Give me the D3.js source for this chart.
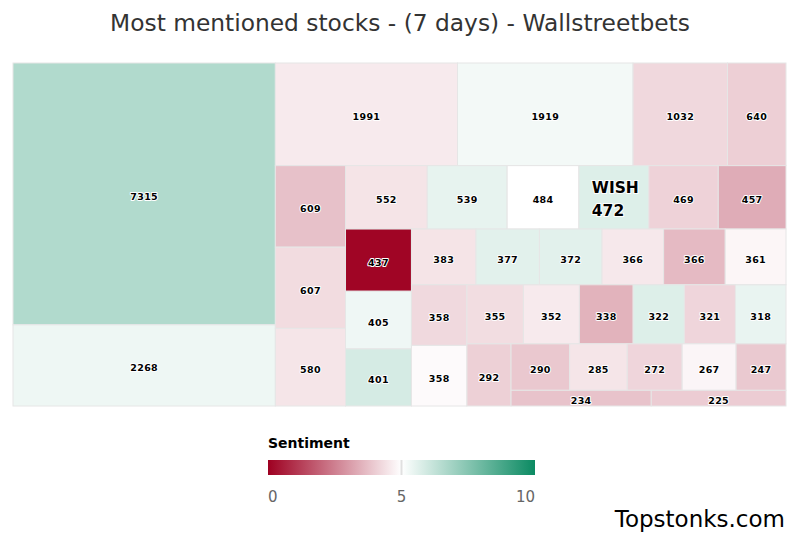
<!DOCTYPE html>
<html>
<head>
<meta charset="utf-8">
<script src="https://cdn.jsdelivr.net/npm/d3@7"></script>
<style>
  html, body { margin: 0; padding: 0; background: #fff; }
  svg { display: block; }
</style>
</head>
<body>
<svg id="chart" width="800" height="533"></svg>
<script>
// ---- data ----
const mentions = [7315, 2268, 1991, 1919, 1032, 640, 609, 607, 580, 552, 539, 484, 472, 469, 457,
  437, 405, 401, 383, 377, 372, 366, 366, 361, 358, 358, 355, 352, 338, 322, 321, 318,
  292, 290, 285, 272, 267, 247, 234, 225];
const sentiment = [6.6, 5.35, 4.59, 5.25, 4.24, 4.06, 3.78, 4.31, 4.49, 4.47, 5.5, 5.0, 5.7, 4.12, 3.37,
  0.1, 5.33, 5.86, 4.47, 5.6, 5.6, 4.55, 3.65, 4.83, 4.25, 4.9, 4.33, 4.59, 3.5, 5.7, 4.18, 5.45,
  4.08, 3.92, 4.49, 4.18, 4.81, 3.94, 3.82, 4.0];
const highlightIndex = 12;
const highlightName = "WISH";
const legendTicks = [0, 5, 10];
const titleText = "Most mentioned stocks - (7 days) - Wallstreetbets";
const legendTitle = "Sentiment";
const watermark = "Topstonks.com";

// ---- setup ----
const svg = d3.select("#chart");
const area = {x: 13, y: 63, w: 773, h: 343};

const color = d3.scaleLinear()
  .domain([0, 5, 10])
  .range(["#9e0021", "#ffffff", "#0b8a62"])
  .interpolate(d3.interpolateRgb)
  .clamp(true);

// Highcharts-style squarified tiling (alternating direction, last-point aspect test)
function hcSquarified(parent, x0, y0, x1, y1) {
  const kids = parent.children;
  const W = x1 - x0, H = y1 - y0, total = parent.value;
  const plot = {x: x0, y: y0};
  const ar = (w, h) => Math.max(w / h, h / w);
  const g = {height: H, width: W, direction: 0, total: 0, nW: 0, lW: 0, nH: 0, lH: 0, elArr: [],
    lP: {total: 0, lH: 0, nH: 0, lW: 0, nW: 0, nR: 0, lR: 0}};
  function add(el) {
    g.lP.total = g.elArr[g.elArr.length - 1];
    g.total += el;
    if (g.direction === 0) {
      g.lW = g.nW;
      g.lP.lH = g.lP.total / g.lW;
      g.lP.lR = ar(g.lW, g.lP.lH);
      g.nW = g.total / g.height;
      g.lP.nH = g.lP.total / g.nW;
      g.lP.nR = ar(g.nW, g.lP.nH);
    } else {
      g.lH = g.nH;
      g.lP.lW = g.lP.total / g.lH;
      g.lP.lR = ar(g.lP.lW, g.lH);
      g.nH = g.total / g.width;
      g.lP.nW = g.lP.total / g.nH;
      g.lP.nR = ar(g.lP.nW, g.nH);
    }
    g.elArr.push(el);
  }
  const rects = [];
  function calc(last) {
    let gW = g.lW, gH = g.lH, keep;
    if (last) { gW = g.nW; gH = g.nH; } else { keep = g.elArr[g.elArr.length - 1]; }
    const end = g.elArr.length - 1;
    g.elArr.forEach((p, i) => {
      if (last || i < end) {
        let pw, ph;
        if (g.direction === 0) { pw = gW; ph = p / pw; } else { ph = gH; pw = p / ph; }
        rects.push({x: plot.x, y: plot.y, w: pw, h: ph});
        if (g.direction === 0) plot.y += ph; else plot.x += pw;
      }
    });
    g.nW = 0; g.lW = 0; g.elArr = []; g.total = 0;
    if (g.direction === 0) g.width -= gW; else g.height -= gH;
    plot.y = y0 + (H - g.height);
    plot.x = x0 + (W - g.width);
    g.direction = 1 - g.direction;
    if (!last) add(keep);
  }
  kids.forEach((c, i) => {
    add(W * H * c.value / total);
    if (g.lP.nR > g.lP.lR) calc(false);
    if (i === kids.length - 1) calc(true);
  });
  kids.forEach((c, i) => {
    const r = rects[i];
    c.x0 = r.x; c.y0 = r.y; c.x1 = r.x + r.w; c.y1 = r.y + r.h;
  });
}

const rootData = {children: mentions.map((v, i) => ({value: v, sentiment: sentiment[i], index: i}))};
const root = d3.hierarchy(rootData).sum(d => d.value || 0);
d3.treemap().size([area.w, area.h]).tile(hcSquarified)(root);

const gMap = svg.append("g").attr("transform", `translate(${area.x},${area.y})`);
const leaves = root.leaves();

gMap.selectAll("rect.cell").data(leaves).join("rect")
  .attr("class", "cell")
  .attr("x", d => d.x0)
  .attr("y", d => d.y0)
  .attr("width", d => d.x1 - d.x0)
  .attr("height", d => d.y1 - d.y0)
  .attr("fill", d => color(d.data.sentiment))
  .attr("stroke", "#e6e6e6")
  .attr("stroke-width", 1);

const labelStyle = sel => sel
  .attr("font-family", "DejaVu Sans, sans-serif")
  .attr("font-weight", "bold")
  .attr("fill", "#000")
  .attr("stroke", "#fff")
  .attr("stroke-width", 2)
  .attr("stroke-linejoin", "round")
  .attr("paint-order", "stroke");

gMap.selectAll("text.lbl").data(leaves.filter(d => d.data.index !== highlightIndex)).join("text")
  .attr("class", "lbl")
  .attr("x", d => (d.x0 + d.x1) / 2)
  .attr("y", d => (d.y0 + d.y1) / 2 + 6)
  .attr("text-anchor", "middle")
  .attr("font-size", 9.5)
  .attr("letter-spacing", 0.3)
  .call(labelStyle)
  .text(d => d.data.value);

const hl = leaves.find(d => d.data.index === highlightIndex);
const hlText = gMap.append("text")
  .attr("font-family", "DejaVu Sans, sans-serif")
  .attr("font-weight", "bold")
  .attr("font-size", 15.5)
  .attr("fill", "#000")
  .attr("stroke", "#fff")
  .attr("stroke-width", 2)
  .attr("paint-order", "stroke");
hlText.append("tspan").text(highlightName);
hlText.append("tspan").text(hl.data.value);
{
  const cx = (hl.x0 + hl.x1) / 2, cy = (hl.y0 + hl.y1) / 2;
  hlText.selectAll("tspan")
    .attr("x", cx - 22)
    .attr("y", (d, i) => cy - 4 + i * 23);
}

// ---- title ----
const title = svg.append("text")
  .attr("x", 400).attr("y", 31)
  .attr("text-anchor", "middle")
  .attr("font-family", "DejaVu Sans, sans-serif")
  .attr("font-size", 21)
  .attr("fill", "#333")
  .text(titleText);
{
  const w = title.node().getComputedTextLength();
  title.attr("font-size", 21 * 580 / w);
}

// ---- legend ----
const lx0 = 268, lx1 = 535, ly = 460, lh = 15;
const defs = svg.append("defs");
const grad = defs.append("linearGradient").attr("id", "sentGrad")
  .attr("x1", "0%").attr("x2", "100%").attr("y1", "0%").attr("y2", "0%");
grad.selectAll("stop").data(color.domain()).join("stop")
  .attr("offset", d => (d / 10 * 100) + "%")
  .attr("stop-color", d => color(d));

const lScale = d3.scaleLinear().domain([0, 10]).range([lx0, lx1]);

svg.append("text")
  .attr("x", lx0).attr("y", 448)
  .attr("font-family", "DejaVu Sans, sans-serif")
  .attr("font-weight", "bold")
  .attr("font-size", 14)
  .attr("fill", "#000")
  .text(legendTitle);

svg.append("rect")
  .attr("x", lx0).attr("y", ly).attr("width", lx1 - lx0).attr("height", lh)
  .attr("fill", "url(#sentGrad)");

svg.append("line")
  .attr("x1", lScale(5)).attr("x2", lScale(5))
  .attr("y1", ly).attr("y2", ly + lh)
  .attr("stroke", "#e0e0e0").attr("stroke-width", 2);

svg.selectAll("text.tick").data(legendTicks).join("text")
  .attr("class", "tick")
  .attr("x", d => lScale(d))
  .attr("y", 502)
  .attr("text-anchor", (d, i) => i === 0 ? "start" : (i === legendTicks.length - 1 ? "end" : "middle"))
  .attr("font-family", "DejaVu Sans, sans-serif")
  .attr("font-size", 15)
  .attr("fill", "#666")
  .text(d => d);

// ---- watermark ----
svg.append("text")
  .attr("x", 785).attr("y", 527)
  .attr("text-anchor", "end")
  .attr("font-family", "DejaVu Sans, sans-serif")
  .attr("font-size", 23)
  .attr("fill", "#000")
  .text(watermark);
</script>
</body>
</html>
